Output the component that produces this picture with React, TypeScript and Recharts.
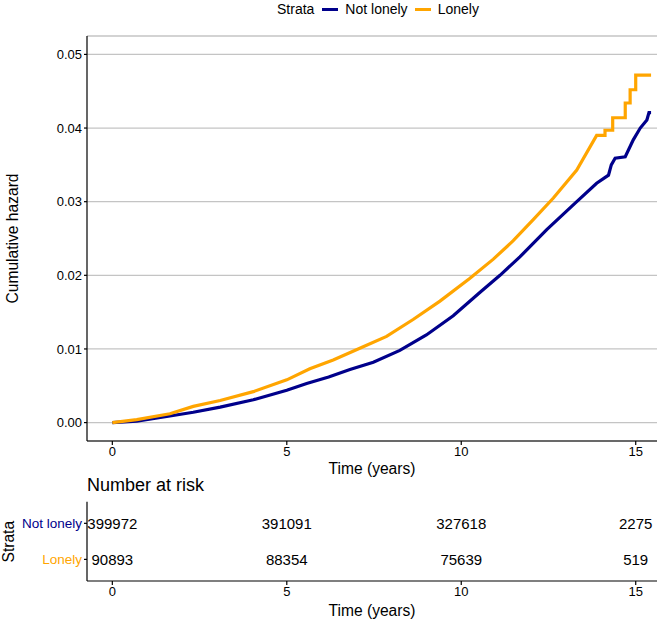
import React from 'react';
import { LineChart, Line, XAxis, YAxis, CartesianGrid, ScatterChart, Scatter } from 'recharts';

// colours and fonts
const NAVY = '#00008B';
const ORANGE = '#FFA500';
const FONT = '"Liberation Sans", Arial, Helvetica, sans-serif';

// cumulative hazard, "Not lonely"
const notLonelyTime = [0, 0.7, 1.65, 2.32, 3.09, 4.04, 5.0, 5.57, 6.2, 6.81, 7.48, 8.24, 9.0, 9.77, 10.54, 11.11, 11.68, 12.45, 13.31, 13.88, 14.22, 14.3, 14.41, 14.7, 14.93, 15.13, 15.32, 15.38, 15.44];
const notLonelyHazard = [0, 0.0002, 0.0009, 0.0014, 0.0021, 0.0031, 0.0044, 0.0053, 0.0062, 0.0072, 0.0082, 0.0098, 0.0119, 0.0145, 0.0177, 0.02, 0.0225, 0.0262, 0.03, 0.0325, 0.0336, 0.035, 0.0359, 0.0361, 0.0384, 0.04, 0.0411, 0.0421, 0.0421];

// cumulative hazard, "Lonely"
const lonelyTime = [0, 0.7, 1.65, 2.32, 3.09, 4.04, 5.0, 5.66, 6.33, 7.19, 7.86, 8.62, 9.39, 10.25, 10.92, 11.49, 12.07, 12.64, 13.31, 13.88, 14.12, 14.12, 14.34, 14.34, 14.7, 14.7, 14.84, 14.84, 15.0, 15.0, 15.44];
const lonelyHazard = [0, 0.0004, 0.0012, 0.0022, 0.003, 0.0042, 0.0058, 0.0073, 0.0085, 0.0103, 0.0117, 0.014, 0.0165, 0.0196, 0.0222, 0.0247, 0.0276, 0.0305, 0.0343, 0.039, 0.039, 0.0397, 0.0397, 0.0414, 0.0414, 0.0434, 0.0434, 0.0452, 0.0452, 0.0472, 0.0472];

const timeTicks = [0, 5, 10, 15];
const hazardTicks = [0, 0.01, 0.02, 0.03, 0.04, 0.05];

// number at risk table
const strata = ['Not lonely', 'Lonely'];
const riskTimes = [0, 5, 10, 15];
const notLonelyAtRisk = [399972, 391091, 327618, 2275];
const lonelyAtRisk = [90893, 88354, 75639, 519];

const X_DOMAIN: [number, number] = [-0.726, 15.61];
const PLOT_LEFT = 87;
const PLOT_RIGHT = 657;

const notLonelyData = notLonelyTime.map((t, i) => ({ t, h: notLonelyHazard[i] }));
const lonelyData = lonelyTime.map((t, i) => ({ t, h: lonelyHazard[i] }));
const notLonelyRisk = riskTimes.map((t, i) => ({ t, row: 2, n: notLonelyAtRisk[i] }));
const lonelyRisk = riskTimes.map((t, i) => ({ t, row: 1, n: lonelyAtRisk[i] }));

const axisLine = { stroke: '#000', strokeWidth: 1.2 };
const tickLine = { stroke: '#000', strokeWidth: 1.2 };

const RiskText = (props: any) => (
  <text
    x={props.cx}
    y={props.cy}
    textAnchor="middle"
    dominantBaseline="central"
    fontSize={15}
    fontFamily={FONT}
    fill="#000"
  >
    {props.payload.n}
  </text>
);

const StrataTick = (props: any) => {
  const label = props.payload.value === 2 ? strata[0] : strata[1];
  return (
    <text
      x={props.x}
      y={props.y}
      textAnchor="end"
      dominantBaseline="central"
      fontSize={13.5}
      fontFamily={FONT}
      fill={props.payload.value === 2 ? NAVY : ORANGE}
    >
      {label}
    </text>
  );
};

const title = (text: string, x: number, y: number, rotate = false) => () => (
  <text
    x={x}
    y={y}
    textAnchor="middle"
    dominantBaseline="central"
    fontSize={15.6}
    fontFamily={FONT}
    fill="#000"
    transform={rotate ? `rotate(-90 ${x} ${y})` : undefined}
  >
    {text}
  </text>
);

const Swatch = ({ color }: { color: string }) => (
  <span style={{ display: 'inline-block', width: 16, height: 3, background: color, margin: '0 7px' }} />
);

export default function App() {
  const midX = (PLOT_LEFT + PLOT_RIGHT) / 2;
  return (
    <div style={{ position: 'absolute', left: 0, top: 0, width: 660, height: 621, background: '#fff', fontFamily: FONT }}>
      <div
        style={{
          position: 'absolute',
          left: 277,
          top: 1,
          height: 16,
          display: 'flex',
          alignItems: 'center',
          fontSize: 14,
          color: '#000',
          whiteSpace: 'nowrap',
        }}
      >
        <span style={{ marginRight: 1 }}>Strata</span>
        <Swatch color={NAVY} />
        <span>Not lonely</span>
        <Swatch color={ORANGE} />
        <span>Lonely</span>
      </div>

      <div style={{ position: 'absolute', left: 0, top: 0 }}>
        <LineChart width={660} height={481} margin={{ top: 36, right: 3, bottom: 0, left: 0 }}>
          <CartesianGrid horizontal vertical={false} stroke="#c4c4c4" strokeWidth={1.3} />
          <XAxis
            type="number"
            dataKey="t"
            domain={X_DOMAIN}
            ticks={timeTicks}
            allowDataOverflow
            height={40}
            axisLine={axisLine}
            tickLine={tickLine}
            tickSize={4}
            tick={{ fill: '#000', fontSize: 13, fontFamily: FONT }}
            label={{ content: title('Time (years)', midX, 468) }}
          />
          <YAxis
            type="number"
            dataKey="h"
            domain={[-0.0025, 0.0525]}
            ticks={hazardTicks}
            allowDataOverflow
            width={87}
            axisLine={axisLine}
            tickLine={tickLine}
            tickSize={3}
            tickFormatter={(v: number) => v.toFixed(2)}
            tick={{ fill: '#000', fontSize: 13, fontFamily: FONT }}
            label={{ content: title('Cumulative hazard', 12, 238.5, true) }}
          />
          <Line
            data={notLonelyData}
            dataKey="h"
            type="linear"
            stroke={NAVY}
            strokeWidth={3.2}
            dot={false}
            isAnimationActive={false}
          />
          <Line
            data={lonelyData}
            dataKey="h"
            type="linear"
            stroke={ORANGE}
            strokeWidth={3.2}
            dot={false}
            isAnimationActive={false}
          />
        </LineChart>
      </div>

      <div style={{ position: 'absolute', left: 87, top: 476, fontSize: 18, lineHeight: '18px', color: '#000' }}>
        Number at risk
      </div>

      <div style={{ position: 'absolute', left: 0, top: 470 }}>
        <ScatterChart width={660} height={151} margin={{ top: 31.7, right: 3, bottom: 0, left: 0 }}>
          <XAxis
            type="number"
            dataKey="t"
            domain={X_DOMAIN}
            ticks={timeTicks}
            allowDataOverflow
            height={40}
            axisLine={axisLine}
            tickLine={tickLine}
            tickSize={4}
            tick={{ fill: '#000', fontSize: 13, fontFamily: FONT }}
            label={{ content: title('Time (years)', midX, 140) }}
          />
          <YAxis
            type="number"
            dataKey="row"
            domain={[0.4, 2.6]}
            ticks={[1, 2]}
            width={87}
            axisLine={axisLine}
            tickLine={tickLine}
            tickSize={3}
            tick={<StrataTick />}
            label={{ content: title('Strata', 9, 71.7, true) }}
          />
          <Scatter data={notLonelyRisk} shape={RiskText} isAnimationActive={false} />
          <Scatter data={lonelyRisk} shape={RiskText} isAnimationActive={false} />
        </ScatterChart>
      </div>
    </div>
  );
}
